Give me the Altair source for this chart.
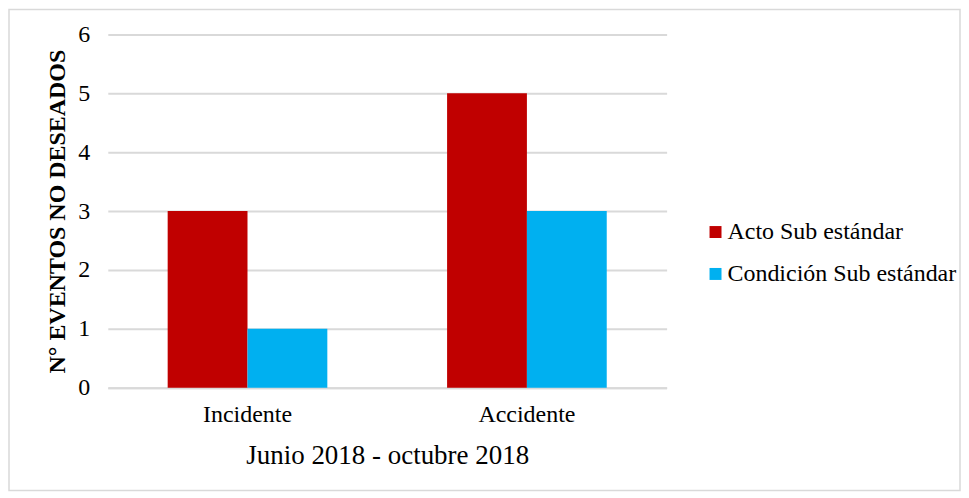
import altair as alt
import pandas as pd

categories = ["Incidente", "Accidente"]
series = ["Acto Sub estándar", "Condición Sub estándar"]
acto = [3, 5]
condicion = [1, 3]
colors = ["#C00000", "#00B0F0"]

rows = []
for i, c in enumerate(categories):
    rows.append({"cat": c, "serie": series[0], "val": acto[i]})
    rows.append({"cat": c, "serie": series[1], "val": condicion[i]})
df = pd.DataFrame(rows)

FONT = "Liberation Serif"

bars = alt.Chart(df).mark_bar().encode(
    x=alt.X("cat:N", sort=categories,
            scale=alt.Scale(paddingInner=0.4286, paddingOuter=0.2143),
            axis=alt.Axis(title="Junio 2018 - octubre 2018", labelAngle=0,
                          labelFontSize=24, titleFontSize=27, titleFontWeight="normal",
                          labelPadding=15, titlePadding=16, ticks=False,
                          domainColor="#d9d9d9", domainWidth=2,
                          labelColor="#000", titleColor="#000")),
    xOffset=alt.XOffset("serie:N", sort=series),
    y=alt.Y("val:Q", scale=alt.Scale(domain=[0, 6]),
            axis=alt.Axis(title="N° EVENTOS NO DESEADOS", values=[0, 1, 2, 3, 4, 5, 6],
                          labelFontSize=24, titleFontSize=24, titleFontWeight="bold",
                          labelPadding=18, titlePadding=8, ticks=False, domain=False,
                          gridColor="#d9d9d9", gridWidth=2,
                          labelColor="#000", titleColor="#000")),
    color=alt.Color("serie:N", sort=series,
                    scale=alt.Scale(domain=series, range=colors),
                    legend=alt.Legend(title=None, orient="none", legendX=597, legendY=186,
                                      symbolType="square", symbolSize=144, symbolStrokeWidth=0,
                                      labelFontSize=24, labelColor="#000", labelLimit=0,
                                      rowPadding=18, labelOffset=0)),
)

frame = alt.Chart(pd.DataFrame({"a": [0]})).mark_rect(
    fill=None, stroke="#d9d9d9", strokeWidth=1.5
).encode(
    x=alt.value(-99), x2=alt.value(854), y=alt.value(-25), y2=alt.value(457)
)

chart = alt.layer(frame, bars).properties(
    width=560, height=354,
    autosize=alt.AutoSizeParams(type="none"),
    padding={"left": 100, "top": 26, "right": 295, "bottom": 106},
).configure(font=FONT).configure_view(stroke=None).configure_axis(
    labelFont=FONT, titleFont=FONT
).configure_legend(labelFont=FONT)

chart.save("out.html", embed_options={"renderer": "svg", "actions": False})
